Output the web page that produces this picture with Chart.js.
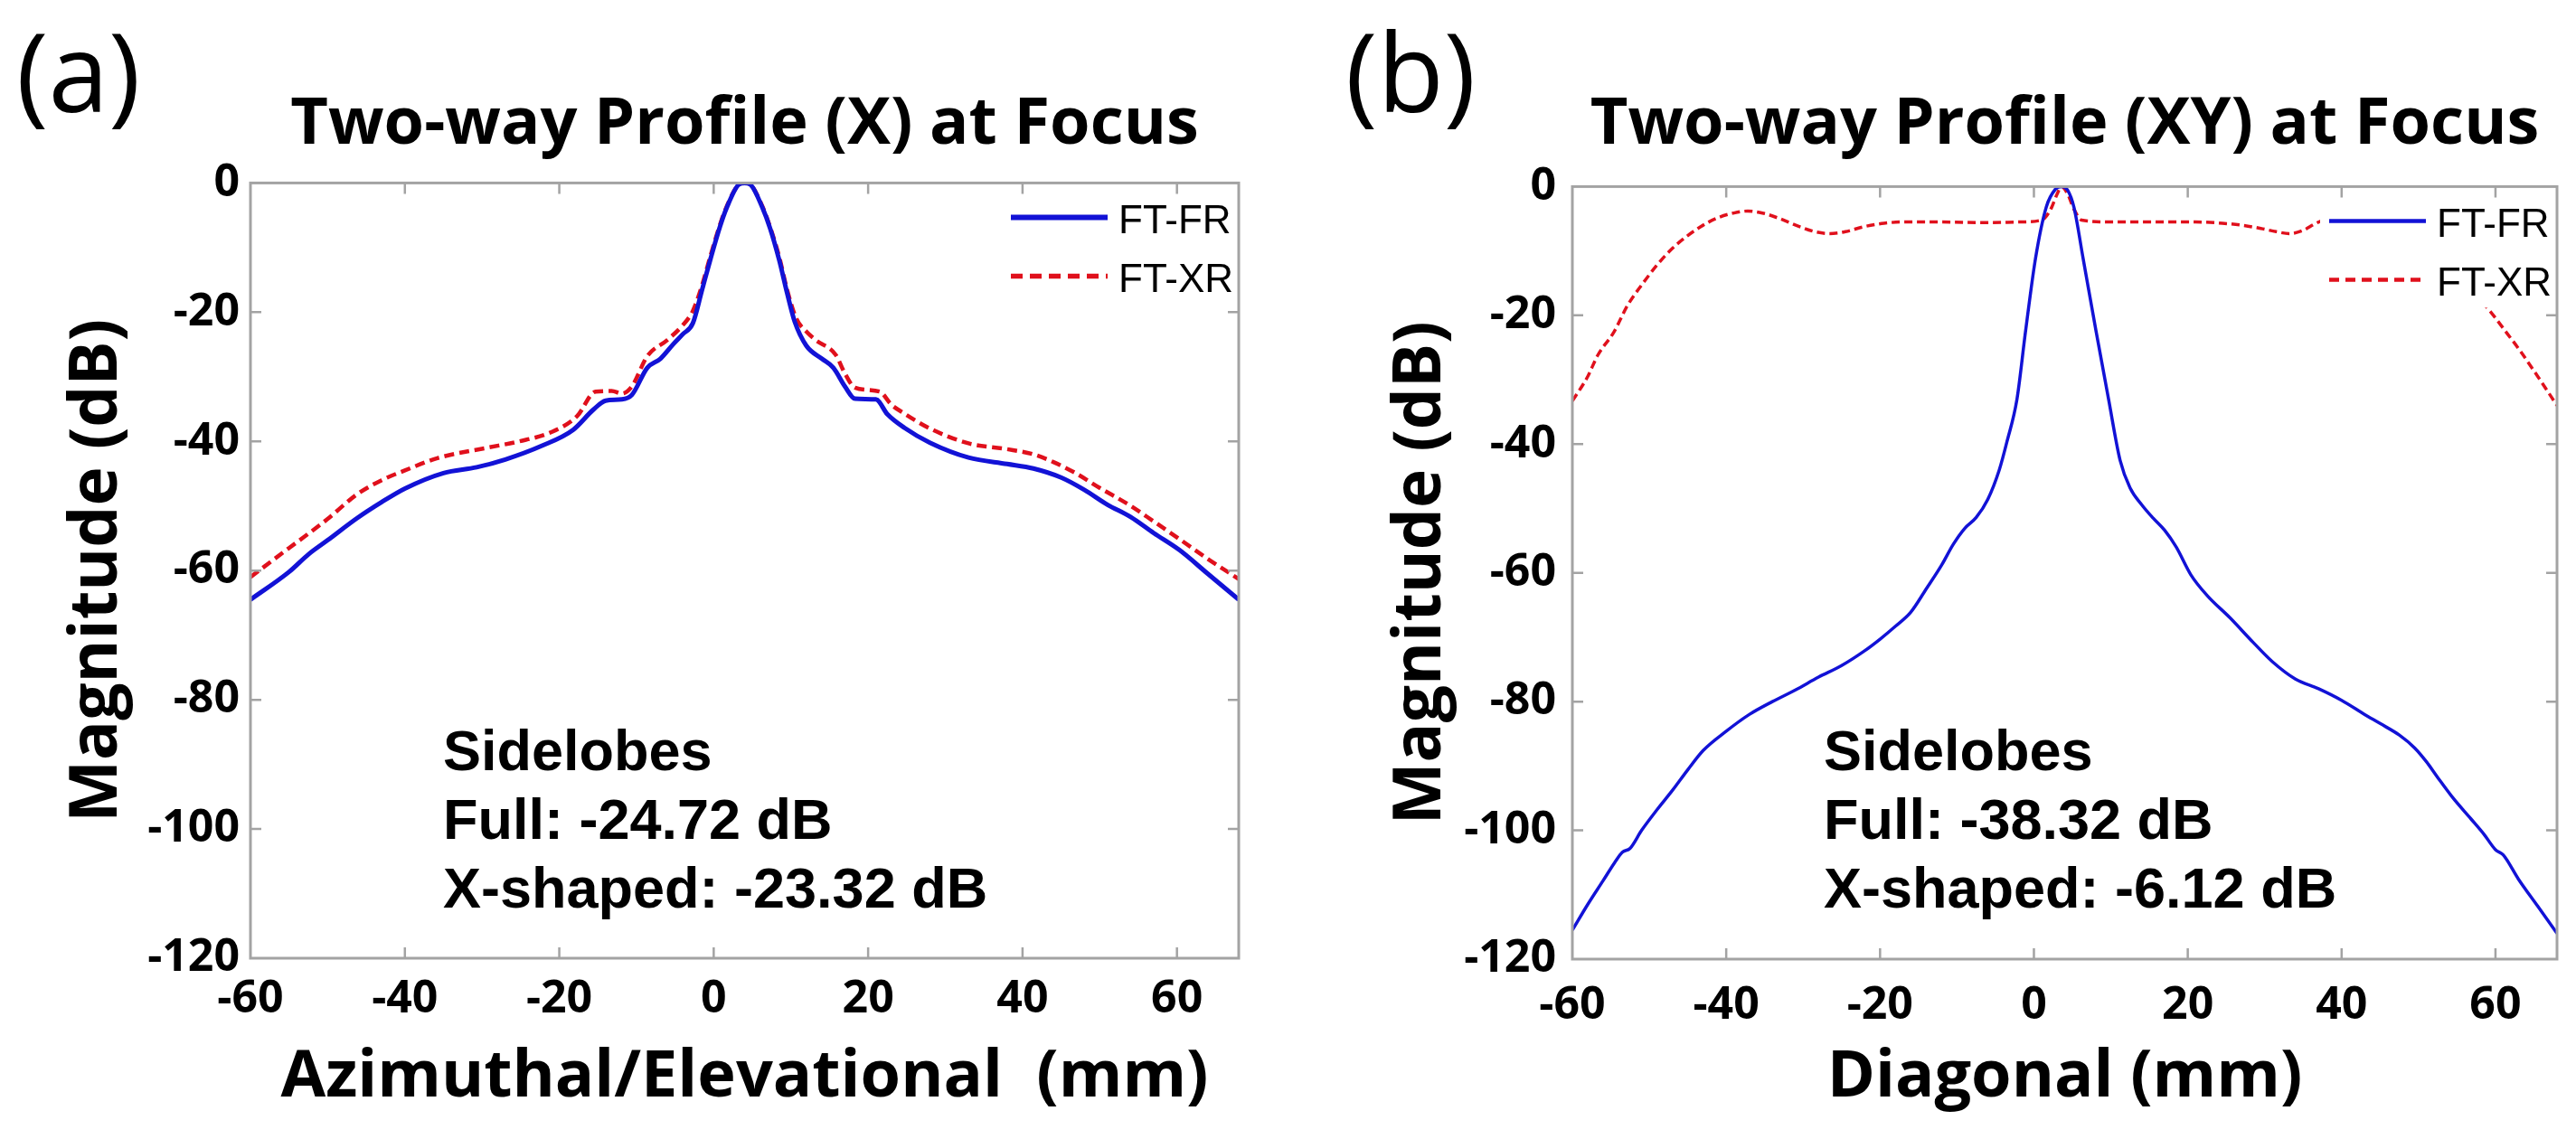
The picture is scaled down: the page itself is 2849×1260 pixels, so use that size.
<!DOCTYPE html>
<html>
<head>
<meta charset="utf-8">
<script src="https://cdn.jsdelivr.net/npm/chart.js@4.4.1/dist/chart.umd.min.js"></script>
<style>
	html, body { margin: 0; padding: 0; background: #fff; }
	#wrap { position: relative; width: 2849px; height: 1260px; }
	.panel { position: absolute; top: 0; height: 1260px; }
	#pa { left: 0; width: 1424px; }
	#pb { left: 1424px; width: 1425px; }
</style>
</head>
<body>
<div id="wrap">
	<div class="panel" id="pa"><canvas id="chartA"></canvas></div>
	<div class="panel" id="pb"><canvas id="chartB"></canvas></div>
</div>
<script>
const xTicks = [-60, -40, -20, 0, 20, 40, 60];
const yTicks = [0, -20, -40, -60, -80, -100, -120];
const seriesNames = ['FT-FR', 'FT-XR'];

const titleA = 'Two-way Profile (X) at Focus';
const titleB = 'Two-way Profile (XY) at Focus';
const xLabelA = 'Azimuthal/Elevational  (mm)';
const xLabelB = 'Diagonal (mm)';
const yLabel = 'Magnitude (dB)';
const noteA = ['Sidelobes', 'Full: -24.72 dB', 'X-shaped: -23.32 dB'];
const noteB = ['Sidelobes', 'Full: -38.32 dB', 'X-shaped: -6.12 dB'];

// [mm, dB] pairs
const frA = [
	[-60, -64.5], [-55, -60.2], [-52.5, -57.5], [-50, -55.3], [-46.2, -51.9], [-43, -49.4],
	[-40, -47.3], [-35, -44.9], [-30.7, -44], [-27, -42.8], [-22.3, -40.7], [-18.2, -38.2],
	[-15.6, -35.1], [-14, -33.7], [-11.9, -33.5], [-10.6, -32.8], [-8.6, -28.6], [-6.9, -27.2],
	[-5.2, -24.9], [-4, -23.4], [-2.7, -21.7], [-1.5, -16.5], [-0.4, -11.7], [0.8, -6.8],
	[1.7, -3.8], [3.2, -0.3], [4, 0], [4.8, -0.3], [6.3, -3.8], [7.3, -7],
	[8.5, -12], [9.5, -17], [10.5, -21.5], [12, -25.2], [14, -27.2], [15.5, -28.6],
	[17, -31.5], [18.3, -33.4], [21, -33.5], [22.5, -35.8], [24.7, -37.9], [28, -40.2],
	[33, -42.5], [38, -43.5], [41.4, -44.2], [45, -45.6], [48, -47.5], [51, -49.8],
	[54, -51.7], [57, -54.2], [60.3, -56.8], [64, -60.5], [68, -64.5]
];
const xrA = [
	[-60, -61], [-55, -56.5], [-52.5, -54.3], [-50, -52], [-46.2, -48.2], [-43, -46],
	[-40, -44.5], [-35.8, -42.6], [-29.4, -41], [-25.2, -40], [-21.1, -38.6], [-17.7, -36.1],
	[-15.3, -32.3], [-13.2, -32.2], [-11.9, -32.6], [-10.6, -31.5], [-8.6, -26.8], [-6, -24.3],
	[-4, -22], [-2.7, -19.8], [-1.5, -15.8], [-0.4, -11.2], [0.8, -6.5], [1.7, -3.6],
	[3.2, -0.3], [4, 0], [4.8, -0.3], [6.3, -3.6], [7.3, -6.8], [8.5, -11.5],
	[9.5, -16.5], [10.7, -21], [12, -23], [13.2, -24.3], [15.8, -26.6], [17, -29.5],
	[18.3, -31.7], [21.5, -32.3], [23, -34.3], [24.7, -35.7], [28, -38], [33, -40.3],
	[38, -41.2], [41.4, -42], [44, -43.2], [46.7, -44.8], [50, -47.2], [53.9, -49.9],
	[57, -52.4], [60.3, -55.1], [64, -58.2], [68, -61.3]
];
const frB = [
	[-60, -115.5], [-58, -111.5], [-56, -107.8], [-54.5, -105], [-53.5, -103.4], [-52.5, -102.8],
	[-51, -100], [-49, -96.8], [-47, -93.8], [-45, -90.6], [-43, -87.6], [-40, -84.6],
	[-37, -82], [-34, -80], [-31, -78.2], [-28, -76.2], [-25, -74.4], [-22, -72.1],
	[-20, -70.3], [-18, -68.3], [-16, -66.1], [-14, -62.5], [-12, -58.8], [-10.5, -55.6],
	[-9, -53.1], [-7.5, -51.4], [-6, -48.6], [-4.5, -44], [-3.5, -39.6], [-2.2, -33],
	[-1.1, -22.6], [0.2, -11.2], [1.6, -3.2], [2.8, -0.4], [3.6, 0], [4.4, -0.6],
	[5.2, -3.2], [6.4, -11.2], [8.1, -22.6], [9.7, -33], [11.2, -42.5], [12.5, -46.8],
	[14, -49.4], [15.5, -51.5], [17, -53.4], [18.5, -56], [20.4, -60.3], [22.5, -63.5],
	[25.5, -67], [28.5, -70.8], [31, -73.8], [34, -76.5], [37, -78], [40, -79.8],
	[43, -82], [45, -83.4], [47.5, -85.2], [49.5, -87.2], [51, -89.3], [52.5, -91.8],
	[54.5, -95], [56.8, -98.2], [58.5, -100.6], [60, -103], [61, -103.8], [63, -107.6],
	[65.5, -111.8], [68, -116]
];
const xrB = [
	[-60, -33.3], [-58, -29.5], [-56.7, -26.2], [-54.6, -22.6], [-52.8, -18.4], [-51, -15.3],
	[-49, -12.2], [-47, -9.6], [-45, -7.6], [-43, -6], [-41, -4.8], [-39, -4.1],
	[-37.2, -3.8], [-35, -4.2], [-33, -5], [-30.5, -6.2], [-28.5, -7], [-26.6, -7.3],
	[-24.5, -7], [-22, -6.2], [-19.5, -5.7], [-17, -5.5], [-12, -5.5], [-6, -5.6],
	[-2, -5.5], [1, -5.2], [2.2, -3.5], [3, -1.2], [3.6, 0], [4.4, -1.2],
	[5.2, -3.5], [6.2, -5.2], [10, -5.5], [16, -5.5], [21, -5.5], [24.5, -5.7],
	[27, -6], [29.5, -6.5], [31.5, -7], [33.2, -7.3], [35, -6.8], [36.5, -5.8],
	[38, -5], [40, -4.3], [42.5, -4], [45, -4.2], [47, -5], [49.5, -6.5],
	[52, -9], [54.5, -12.5], [57, -16.3], [59.4, -19.5], [61, -22], [63.2, -25.5],
	[65.5, -29.5], [68, -34]
];

const BLUE = '#1212d6';
const RED = '#e0101c';
const FONT = "'Open Sans', sans-serif";
const ARIAL = "'Liberation Sans', Arial, sans-serif";

Chart.defaults.color = '#000';

const pts = arr => arr.map(p => ({x: p[0], y: p[1]}));

// MATLAB-like box with inward ticks, panel letter and the sidelobe note
const frame = {
	id: 'frame',
	afterDraw(chart, args, opts) {
		const {ctx, chartArea: a, scales: {x, y}} = chart;
		ctx.save();
		ctx.strokeStyle = '#a3a3a3';
		ctx.lineWidth = 2.5;
		ctx.beginPath();
		xTicks.forEach(v => {
			const px = x.getPixelForValue(v);
			if (px <= a.left + 2 || px >= a.right - 2) return;
			ctx.moveTo(px, a.bottom); ctx.lineTo(px, a.bottom - 12);
			ctx.moveTo(px, a.top); ctx.lineTo(px, a.top + 12);
		});
		yTicks.forEach(v => {
			const py = y.getPixelForValue(v);
			if (py <= a.top + 2 || py >= a.bottom - 2) return;
			ctx.moveTo(a.left, py); ctx.lineTo(a.left + 12, py);
			ctx.moveTo(a.right, py); ctx.lineTo(a.right - 12, py);
		});
		ctx.stroke();
		ctx.lineWidth = 3;
		ctx.strokeRect(a.left, a.top, a.right - a.left, a.bottom - a.top);

		ctx.fillStyle = '#000';
		ctx.textBaseline = 'alphabetic';
		ctx.textAlign = 'left';
		ctx.font = "120px " + FONT;
		ctx.fillText(opts.label, opts.labelX, 124);

		ctx.font = "bold 63px " + ARIAL;
		opts.note.forEach((t, i) => ctx.fillText(t, opts.noteX, 852 + i * 76));
		ctx.restore();
	}
};

// legend drawn inside the plot, top right, on a white box
const legendBox = {
	id: 'legendBox',
	afterDatasetsDraw(chart) {
		const {ctx, chartArea: a} = chart;
		ctx.save();
		ctx.fillStyle = '#fff';
		ctx.fillRect(a.right - 262, a.top + 3, 259, 131);
		chart.data.datasets.forEach((ds, i) => {
			const yy = a.top + 38 + i * 65;
			ctx.strokeStyle = ds.borderColor;
			ctx.lineWidth = ds.borderWidth + 1;
			ctx.setLineDash(ds.borderDash ? ds.borderDash.map(d => d + 2) : []);
			ctx.beginPath();
			ctx.moveTo(a.right - 252, yy);
			ctx.lineTo(a.right - 145, yy);
			ctx.stroke();
			ctx.setLineDash([]);
			ctx.fillStyle = '#000';
			ctx.font = "44px " + ARIAL;
			ctx.textBaseline = 'middle';
			ctx.fillText(ds.label, a.right - 133, yy + 5);
		});
		ctx.restore();
	}
};

function makeChart(id, c) {
	return new Chart(document.getElementById(id), {
		type: 'line',
		data: {
			datasets: [
				{label: seriesNames[0], data: pts(c.fr), borderColor: BLUE, borderWidth: c.wBlue},
				{label: seriesNames[1], data: pts(c.xr), borderColor: RED, borderWidth: c.wRed, borderDash: c.dash}
			]
		},
		options: {
			responsive: true,
			maintainAspectRatio: false,
			devicePixelRatio: 1,
			animation: false,
			elements: {point: {radius: 0}, line: {cubicInterpolationMode: 'monotone', fill: false}},
			layout: {padding: {left: 0, right: c.padRight, top: 0, bottom: 0}},
			plugins: {
				legend: {display: false},
				tooltip: {enabled: false},
				title: {
					display: true,
					text: c.title,
					fullSize: false,
					color: '#000',
					font: {family: FONT, weight: 'bold', size: 72, lineHeight: 1.2},
					padding: {top: c.titleTop, bottom: c.titleBottom}
				},
				frame: {label: c.label, labelX: c.labelX, note: c.note, noteX: c.noteX}
			},
			scales: {
				x: {
					type: 'linear',
					min: -60,
					max: 68,
					afterBuildTicks: s => { s.ticks = xTicks.map(v => ({value: v})); },
					afterFit: s => { s.height = c.xHeight; },
					grid: {display: false, drawTicks: false},
					border: {display: false},
					ticks: {
						font: {family: FONT, weight: 'bold', size: 50},
						color: '#000',
						padding: c.xPad,
						maxRotation: 0,
						autoSkip: false,
						callback: v => String(v)
					},
					title: {
						display: true,
						text: c.xLabel,
						color: '#000',
						font: {family: FONT, weight: 'bold', size: 72, lineHeight: 1.2},
						padding: {top: 0, bottom: 24}
					}
				},
				y: {
					type: 'linear',
					min: -120,
					max: 0,
					afterBuildTicks: s => { s.ticks = yTicks.map(v => ({value: v})); },
					afterFit: s => { s.width = c.yWidth; },
					grid: {display: false, drawTicks: false},
					border: {display: false},
					ticks: {
						font: {family: FONT, weight: 'bold', size: 50},
						color: '#000',
						padding: c.yPad,
						autoSkip: false,
						callback: v => String(v)
					},
					title: {
						display: true,
						text: yLabel,
						color: '#000',
						font: {family: FONT, weight: 'bold', size: 73, lineHeight: 1.2},
						padding: {top: c.yTitlePad, bottom: 0}
					}
				}
			}
		},
		plugins: [legendBox, frame]
	});
}

makeChart('chartA', {
	fr: frA, xr: xrA, title: titleA, xLabel: xLabelA, note: noteA,
	label: '(a)', labelX: 18, noteX: 490,
	wBlue: 5, wRed: 4.5, dash: [11, 6],
	padRight: 54, titleTop: 95, titleBottom: 21,
	xHeight: 200, xPad: 16, yWidth: 277, yPad: 12, yTitlePad: 64
});

makeChart('chartB', {
	fr: frB, xr: xrB, title: titleB, xLabel: xLabelB, note: noteB,
	label: '(b)', labelX: 64, noteX: 593,
	wBlue: 3.5, wRed: 3.5, dash: [9, 5],
	padRight: 21, titleTop: 95, titleBottom: 25,
	xHeight: 199, xPad: 22, yWidth: 315, yPad: 18, yTitlePad: 104
});
</script>
</body>
</html>
